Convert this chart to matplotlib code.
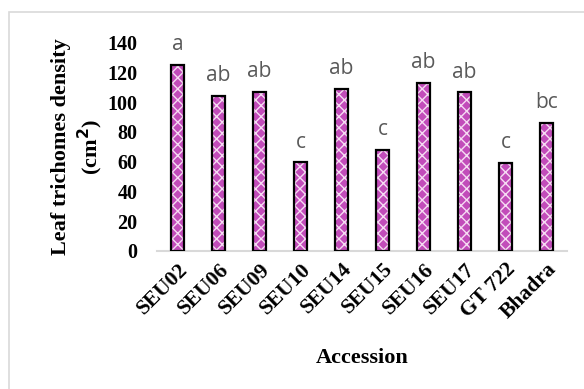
import matplotlib.pyplot as plt
from matplotlib.patches import Rectangle

accessions = ['SEU02', 'SEU06', 'SEU09', 'SEU10', 'SEU14', 'SEU15',
              'SEU16', 'SEU17', 'GT 722', 'Bhadra']
density = [125, 104, 107, 59.5, 109, 68, 113, 106.5, 59, 86]
groups = ['a', 'ab', 'ab', 'c', 'ab', 'c', 'ab', 'ab', 'c', 'bc']
yticks = [0, 20, 40, 60, 80, 100, 120, 140]

plt.rcParams['hatch.linewidth'] = 1.0
serif = ['Liberation Serif', 'DejaVu Serif']

fig = plt.figure(figsize=(5.84, 3.89), dpi=100)
ax = fig.add_axes([157 / 584, 1 - 251 / 389, 410 / 584, 208.5 / 389])

# light border around the chart area
fig.patches.append(Rectangle((9 / 584, -0.1), 1.1, 1 - 12 / 389 + 0.1,
                             transform=fig.transFigure, fill=False,
                             edgecolor='#d9d9d9', linewidth=1.2))

x = range(len(accessions))
# patterned fill, then a black outline on top
ax.bar(x, density, width=0.32, color='#c24cba', edgecolor='#f6dcf3',
       hatch='xxx', linewidth=0, zorder=2)
bars = ax.bar(x, density, width=0.32, fill=False, edgecolor='black',
              linewidth=1.6, zorder=3)

for bar, g in zip(bars, groups):
    ax.annotate(g, (bar.get_x() + bar.get_width() / 2, bar.get_height()),
                xytext=(0, 7), textcoords='offset points', ha='center',
                va='bottom', fontsize=15, color='#595959',
                family=['Open Sans', 'DejaVu Sans'])

ax.set_xlim(-0.5, len(accessions) - 0.5)
ax.set_ylim(0, 140)
ax.set_yticks(yticks)
ax.set_yticklabels([str(v) for v in yticks], fontsize=14.5,
                   fontweight='bold', family=serif)
ax.set_xticks(list(x))
ax.set_xticklabels(accessions, rotation=45, ha='right', rotation_mode='anchor',
                   fontsize=15.5, fontweight='bold', family=serif)
ax.tick_params(axis='y', length=0, pad=14)
ax.tick_params(axis='x', length=0, pad=6)

for side in ['top', 'right', 'left']:
    ax.spines[side].set_visible(False)
ax.spines['bottom'].set_color('#d9d9d9')
ax.spines['bottom'].set_linewidth(1.5)

ax.set_ylabel('Leaf trichomes density\n(cm$^{\\mathbf{2}}$)', fontsize=16,
              fontweight='bold', family=serif, labelpad=2)
ax.set_xlabel('Accession', fontsize=16, fontweight='bold', family=serif,
              labelpad=18)

fig.savefig('out.png', dpi=100)
